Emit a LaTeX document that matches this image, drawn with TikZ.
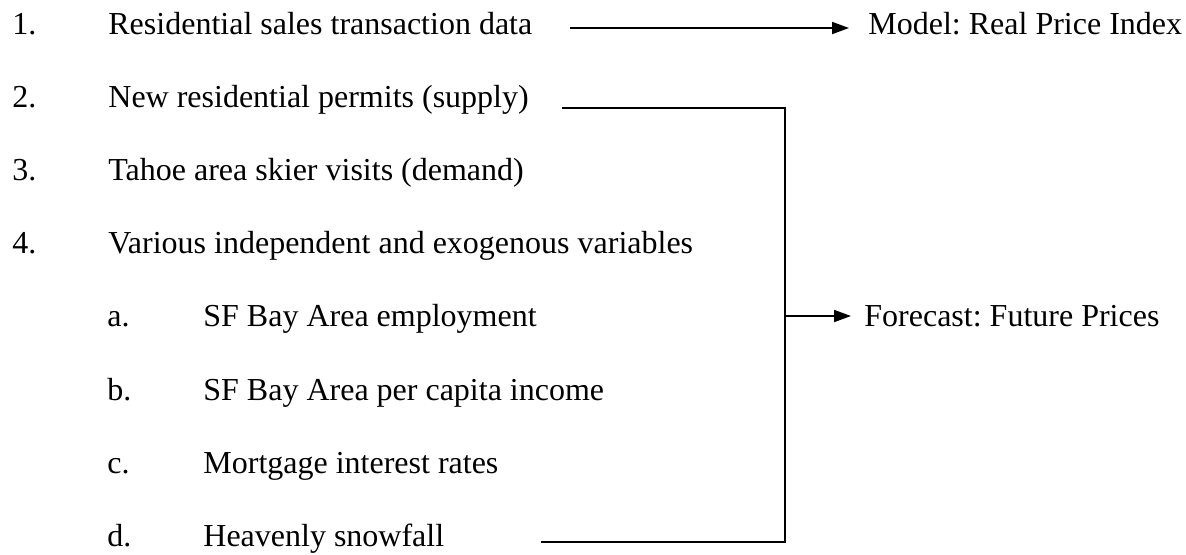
\documentclass[tikz,border=0pt]{standalone}
\usepackage{fontspec}
\setmainfont{Liberation Serif}
\usetikzlibrary{arrows.meta}
\frenchspacing
\tikzset{
  item/.style={anchor=base west,inner sep=0pt,font=\fontsize{16}{19}\selectfont},
  link/.style={line width=0.9pt},
  flow/.style={link,-{Triangle[length=8.5pt,width=6pt]}}
}
\begin{document}
\begin{tikzpicture}[x=0.5pt,y=-0.5pt]
  \useasboundingbox (0,0) rectangle (1186,554);
  % list of inputs
  \foreach \lab/\txt [count=\i] in {1./Residential sales transaction data,
      2./New residential permits (supply),3./Tahoe area skier visits (demand),
      4./Various independent and exogenous variables} {
    \node[item] (num\i) at (12,{34+73.2*(\i-1)}) {\lab};
    \node[item] (txt\i) at (108,{34+73.2*(\i-1)}) {\txt};
  }
  \foreach \lab/\txt [count=\i from 5] in {a./SF Bay Area employment,
      b./SF Bay Area per capita income,c./Mortgage interest rates,
      d./Heavenly snowfall} {
    \node[item] (num\i) at (107,{34+73.2*(\i-1)}) {\lab};
    \node[item] (txt\i) at (203,{34+73.2*(\i-1)}) {\txt};
  }
  % outputs
  \node[item] (model) at (868,34) {Model: Real Price Index};
  \node[item] (fcast) at (txt5.base -| 864,0) {Forecast: Future Prices};
  % connectors
  \coordinate (s1) at (570,28);
  \coordinate (s2) at (562,108);
  \coordinate (s8) at (541,542);
  \coordinate (join) at (785,316);
  \draw[flow,shorten >=9.5pt] (s1) -- (s1 -| model.west);
  \draw[link] (s2) -- (s2 -| join) -- (s8 -| join) -- (s8);
  \draw[flow,shorten >=6.5pt] (join) -- (join -| fcast.west);
\end{tikzpicture}
\end{document}
